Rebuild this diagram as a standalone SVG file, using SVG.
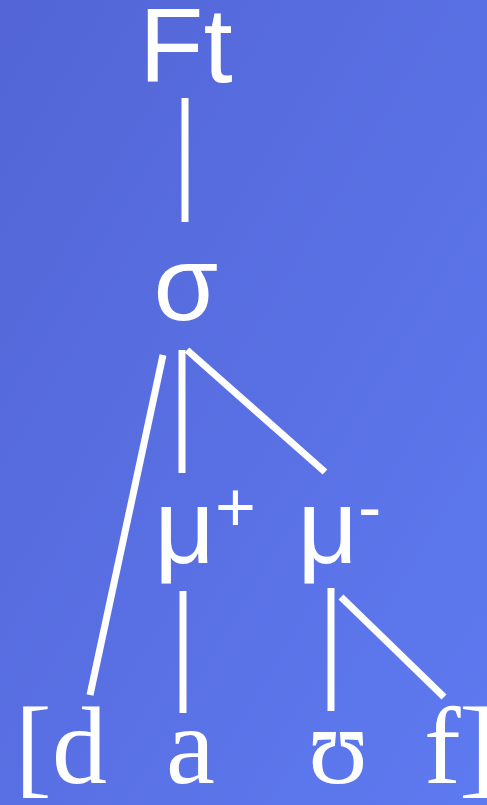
<svg xmlns="http://www.w3.org/2000/svg" width="487" height="805" viewBox="0 0 487 805">
<defs>
<linearGradient id="bg" x1="0" y1="0" x2="1" y2="1">
<stop offset="0" stop-color="#5365d6"/>
<stop offset="1" stop-color="#5e7af0"/>
</linearGradient>
<style>
.sans{font-family:"Liberation Sans",Arial,sans-serif;fill:#fff}
.ln{stroke:#fff;stroke-width:7;fill:none}
</style>
</defs>
<rect width="487" height="805" fill="url(#bg)"/>
<g id="connectors">
<line class="ln" x1="185" y1="98" x2="185" y2="222"/>
<line class="ln" x1="163" y1="355" x2="90" y2="695"/>
<line class="ln" x1="182" y1="350" x2="182" y2="473"/>
<line class="ln" x1="187" y1="350" x2="325" y2="472"/>
<line class="ln" x1="183" y1="591" x2="183" y2="713"/>
<line class="ln" x1="331" y1="588" x2="331" y2="711"/>
<line class="ln" x1="341" y1="597" x2="444" y2="697"/>
</g>
<g id="ft"><text class="sans" x="186" y="82" font-size="105" text-anchor="middle">Ft</text></g>
<g id="sigma"><text class="sans" x="186" y="320" font-size="105" text-anchor="middle">σ</text></g>
<g id="mu-plus"><text class="sans" x="154.5" y="563" font-size="105">μ<tspan font-size="70" y="531">+</tspan></text></g>
<g id="mu-minus"><text class="sans" x="297.5" y="563" font-size="105">μ<tspan font-size="70" y="531">-</tspan></text></g>
<g id="segments" font-family="'Liberation Serif', 'Times New Roman', Times, serif" font-size="110" fill="#fff">
<text x="15" y="783">[</text>
<text x="52" y="783">d</text>
<text x="166" y="783">a</text>
<text x="308" y="783">ʊ</text>
<text x="424" y="783">f</text>
<text x="459" y="783">]</text>
</g>
</svg>
